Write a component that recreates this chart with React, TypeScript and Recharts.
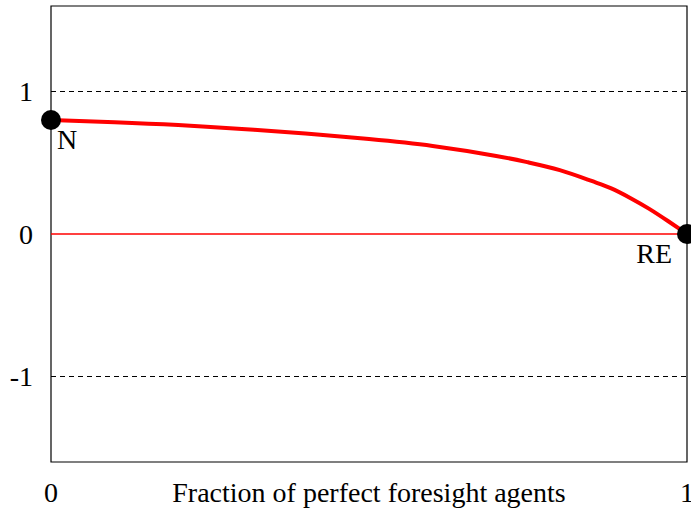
import React from 'react';
import {
  ComposedChart,
  Line,
  Scatter,
  XAxis,
  YAxis,
  ReferenceLine,
  ReferenceArea,
} from 'recharts';

// fraction of perfect foresight agents -> value
const fractionValues = [0, 0.1, 0.2, 0.3, 0.4, 0.5, 0.6, 0.7, 0.75, 0.8, 0.85, 0.88, 0.91, 0.94, 0.97, 1.0];
const curveValues = [0.8, 0.785, 0.765, 0.737, 0.705, 0.666, 0.618, 0.548, 0.503, 0.448, 0.372, 0.322, 0.255, 0.178, 0.091, 0];

const equilibriumNames = ['N', 'RE'];
const equilibriumX = [0, 1];
const equilibriumY = [0.8, 0];

const xTicks = [0, 1];
const yTicks = [-1, 0, 1];
const xLabel = 'Fraction of perfect foresight agents';

const FONT = '"Liberation Serif", "Times New Roman", serif';
const FONT_SIZE = 28;

const curve = fractionValues.map((x, i) => ({ x, y: curveValues[i] }));
const equilibria = equilibriumNames.map((name, i) => ({
  name,
  x: equilibriumX[i],
  y: equilibriumY[i],
}));

const XTick = (props: any) => {
  const { x, payload } = props;
  return (
    <text x={x} y={502} textAnchor="middle" fontSize={FONT_SIZE} fontFamily={FONT} fill="#000">
      {payload.value}
    </text>
  );
};

const YTick = (props: any) => {
  const { y, payload } = props;
  return (
    <text x={33} y={y + 9.5} textAnchor="end" fontSize={FONT_SIZE} fontFamily={FONT} fill="#000">
      {payload.value}
    </text>
  );
};

const EqDot = (props: any) => {
  const { cx, cy, payload } = props;
  const isLeft = payload.name === 'N';
  return (
    <g>
      <circle cx={cx} cy={cy} r={10} fill="#000" />
      <text
        x={isLeft ? cx + 6 : cx - 15}
        y={cy + 29}
        textAnchor={isLeft ? 'start' : 'end'}
        fontSize={FONT_SIZE}
        fontFamily={FONT}
        fill="#000"
      >
        {payload.name}
      </text>
    </g>
  );
};

export default function App() {
  return (
    <div style={{ position: 'absolute', left: 0, top: 0, background: '#fff' }}>
      <ComposedChart
        width={691}
        height={508}
        margin={{ top: 6, right: 4, bottom: 0, left: 0 }}
      >
        <XAxis
          dataKey="x"
          type="number"
          domain={[0, 1]}
          ticks={xTicks}
          tickLine={false}
          axisLine={false}
          tickSize={0}
          height={46}
          tick={<XTick />}
          allowDuplicatedCategory={false}
        />
        <YAxis
          type="number"
          domain={[-1.6, 1.6]}
          ticks={yTicks}
          tickLine={false}
          axisLine={false}
          width={51}
          tick={<YTick />}
        />
        <ReferenceArea
          x1={0}
          x2={1}
          y1={-1.6}
          y2={1.6}
          fill="none"
          stroke="#000"
          strokeWidth={1.2}
          fillOpacity={0}
        />
        <ReferenceLine y={1} stroke="#000" strokeDasharray="5 4" strokeWidth={1} />
        <ReferenceLine y={-1} stroke="#000" strokeDasharray="5 4" strokeWidth={1} />
        <ReferenceLine y={0} stroke="#ff0000" strokeWidth={1.6} />
        <Line
          data={curve}
          dataKey="y"
          type="natural"
          stroke="#ff0000"
          strokeWidth={4}
          dot={false}
          isAnimationActive={false}
        />
        <Scatter
          data={equilibria}
          dataKey="y"
          shape={<EqDot />}
          isAnimationActive={false}
        />
        <text
          x={369}
          y={502}
          textAnchor="middle"
          fontSize={FONT_SIZE}
          fontFamily={FONT}
          fill="#000"
        >
          {xLabel}
        </text>
      </ComposedChart>
    </div>
  );
}
